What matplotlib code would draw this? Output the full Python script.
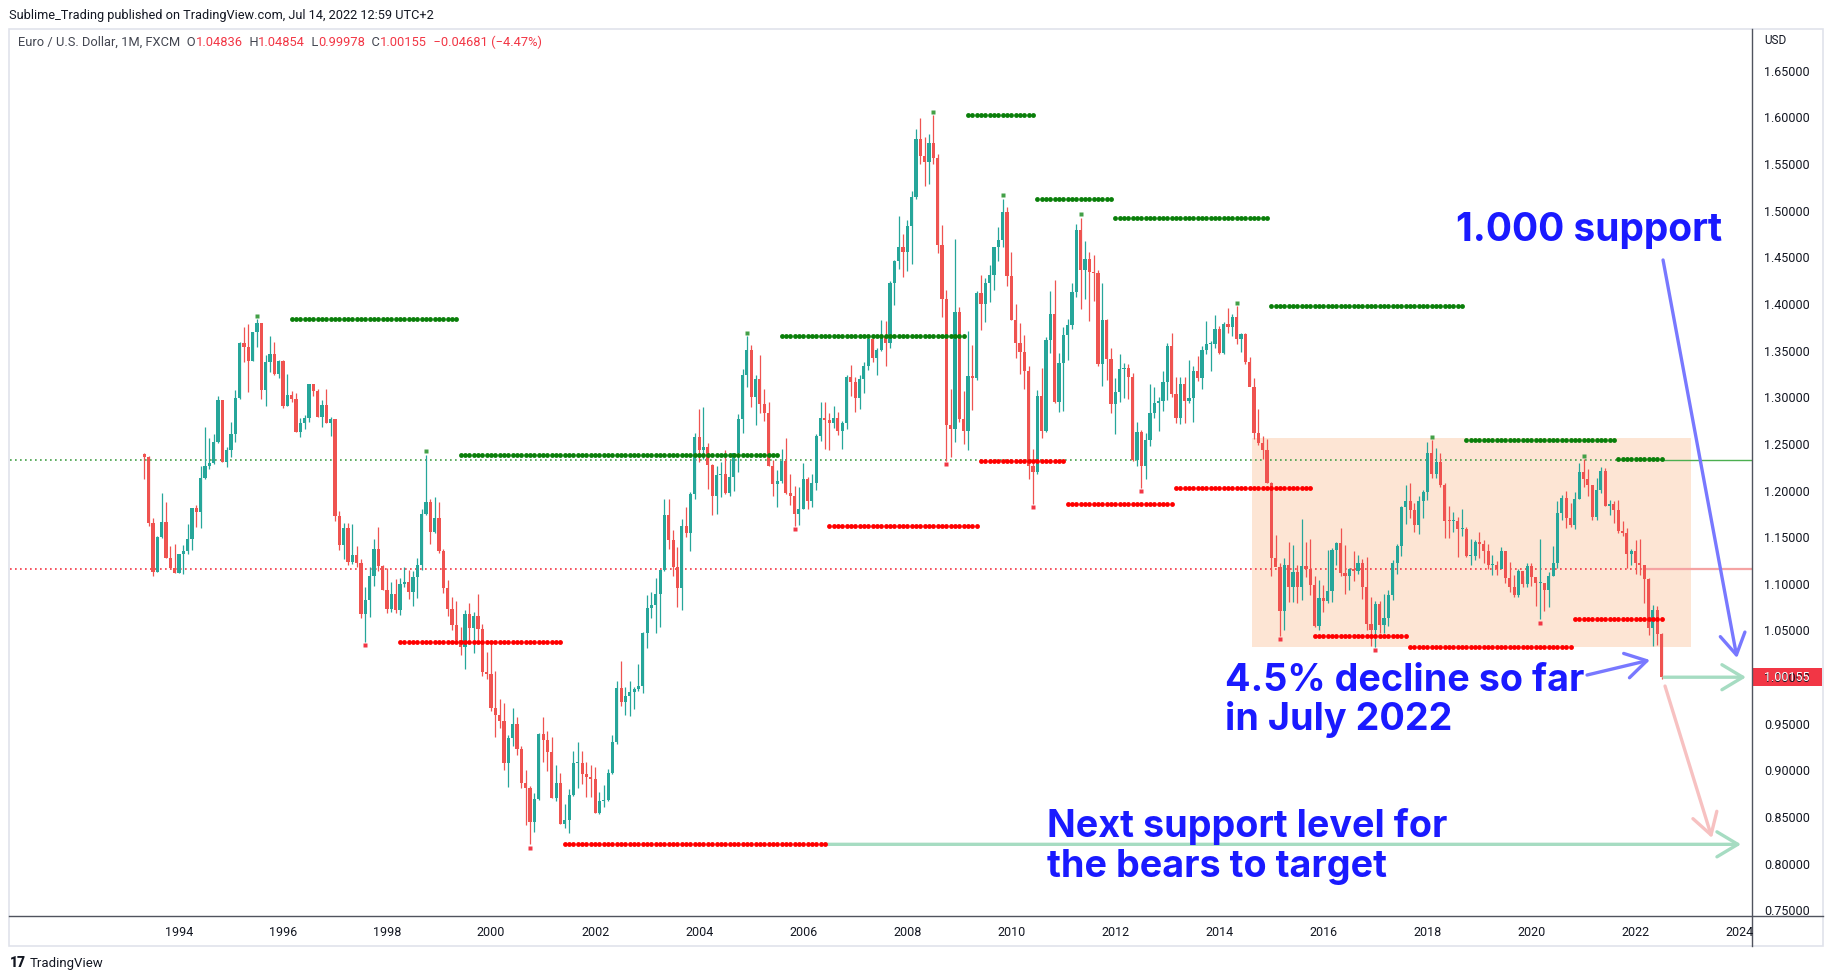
import matplotlib
matplotlib.use("Agg")
import matplotlib.pyplot as plt
import matplotlib.transforms as mtransforms
from matplotlib.patches import Rectangle
from matplotlib.lines import Line2D
import numpy as np
import pandas as pd

W, H, DPI = 1834, 980, 100

# ---------------- data (monthly EUR/USD, FXCM) ----------------
start_month = "1993-05"
first_open = 1.2407

closes = [
    1.2378, 1.1671, 1.1146, 1.1518, 1.1679, 1.1296, 1.1189, 1.1136,                  # 1993 May-Dec
    1.1336, 1.1368, 1.1496, 1.1830, 1.1790, 1.2153, 1.2278, 1.2310, 1.2536, 1.2986, 1.2325, 1.2446,  # 1994
    1.2621, 1.3011, 1.3593, 1.3550, 1.3407, 1.3714, 1.3807, 1.3093, 1.3393, 1.3479, 1.3264, 1.3407,  # 1995
    1.2921, 1.3040, 1.2996, 1.2646, 1.2739, 1.2789, 1.3157, 1.3086, 1.2807, 1.2932, 1.2743, 1.2782,  # 1996
    1.1746, 1.1432, 1.1614, 1.1253, 1.1321, 1.1243, 1.0689, 1.0843, 1.1100, 1.1389, 1.1207, 1.0950,  # 1997
    1.0746, 1.0907, 1.0736, 1.1014, 1.1036, 1.0932, 1.1090, 1.1218, 1.1764, 1.1893, 1.1575, 1.1721,  # 1998
    1.1371, 1.0975, 1.0746, 1.0578, 1.0411, 1.0340, 1.0690, 1.0546, 1.0671, 1.0532, 1.0075, 1.0054,  # 1999
    0.9690, 0.9614, 0.9550, 0.9100, 0.9360, 0.9514, 0.9246, 0.8879, 0.8825, 0.8468, 0.8711, 0.9407,  # 2000
    0.9343, 0.9218, 0.8725, 0.8879, 0.8440, 0.8486, 0.8754, 0.9093, 0.9100, 0.8979, 0.8950, 0.8921,  # 2001
    0.8564, 0.8690, 0.8700, 0.8986, 0.9318, 0.9896, 0.9754, 0.9814, 0.9861, 0.9889, 0.9925, 1.0486,  # 2002
    1.0754, 1.0789, 1.0907, 1.1164, 1.1754, 1.1486, 1.1200, 1.0970, 1.1636, 1.1557, 1.1974, 1.2585,  # 2003
    1.2450, 1.2478, 1.2287, 1.1954, 1.2180, 1.2192, 1.1993, 1.2160, 1.2418, 1.2783, 1.3259, 1.3517,  # 2004
    1.3013, 1.3212, 1.2942, 1.2847, 1.2279, 1.2081, 1.2113, 1.2327, 1.1993, 1.1962, 1.1763, 1.1823,  # 2005
    1.2140, 1.1902, 1.2101, 1.2597, 1.2795, 1.2775, 1.2744, 1.2795, 1.2656, 1.2744, 1.3228, 1.3180,  # 2006
    1.3005, 1.3212, 1.3347, 1.3641, 1.3434, 1.3517, 1.3672, 1.3597, 1.4243, 1.4474, 1.4621, 1.4573,  # 2007
    1.4847, 1.5164, 1.5783, 1.5601, 1.5533, 1.5744, 1.5582, 1.4646, 1.4068, 1.2718, 1.2675, 1.3925,  # 2008
    1.2782, 1.2657, 1.3246, 1.3218, 1.4128, 1.4014, 1.4236, 1.4325, 1.4621, 1.4700, 1.5000, 1.4314,  # 2009
    1.3843, 1.3600, 1.3496, 1.3300, 1.2282, 1.2218, 1.3029, 1.2657, 1.3629, 1.3907, 1.2961, 1.3378,  # 2010
    1.3682, 1.3789, 1.4143, 1.4807, 1.4378, 1.4496, 1.4361, 1.4350, 1.3371, 1.3843, 1.3421, 1.2943,  # 2011
    1.3068, 1.3318, 1.3332, 1.3228, 1.2343, 1.2640, 1.2282, 1.2557, 1.2843, 1.2950, 1.2975, 1.3175,  # 2012
    1.3564, 1.3046, 1.2796, 1.3157, 1.2979, 1.3010, 1.3300, 1.3220, 1.3525, 1.3584, 1.3590, 1.3745,  # 2013
    1.3485, 1.3805, 1.3770, 1.3870, 1.3635, 1.3690, 1.3390, 1.3130, 1.2630, 1.2525, 1.2450, 1.2100,  # 2014
    1.1290, 1.1195, 1.0730, 1.1220, 1.0985, 1.1145, 1.0985, 1.1210, 1.1175, 1.1005, 1.0565, 1.0860,  # 2015
    1.0830, 1.0935, 1.1380, 1.1450, 1.1130, 1.1105, 1.1175, 1.1155, 1.1240, 1.0985, 1.0590, 1.0520,  # 2016
    1.0800, 1.0575, 1.0650, 1.0895, 1.1240, 1.1425, 1.1840, 1.1905, 1.1810, 1.1645, 1.1905, 1.2005,  # 2017
    1.2415, 1.2195, 1.2325, 1.2080, 1.1690, 1.1685, 1.1690, 1.1600, 1.1605, 1.1310, 1.1315, 1.1465,  # 2018
    1.1445, 1.1370, 1.1215, 1.1215, 1.1170, 1.1370, 1.1075, 1.0985, 1.0900, 1.1150, 1.1015, 1.1210,  # 2019
    1.1090, 1.1025, 1.1030, 1.0955, 1.1100, 1.1235, 1.1780, 1.1935, 1.1720, 1.1645, 1.1925, 1.2215,  # 2020
    1.2135, 1.2075, 1.1730, 1.2020, 1.2225, 1.1855, 1.1870, 1.1805, 1.1580, 1.1560, 1.1335, 1.1370,  # 2021
    1.1235, 1.1215, 1.1065, 1.0545, 1.0735, 1.04836, 1.00155,                                        # 2022 Jan-Jul
]

highs = [
    1.2421, 1.2386, 1.1718, 1.1525, 1.1989, 1.1893, 1.1421, 1.1443,
    1.1340, 1.1430, 1.1660, 1.1830, 1.1861, 1.2278, 1.2700, 1.2580, 1.2621, 1.3028, 1.2990, 1.2486,
    1.2750, 1.3093, 1.3604, 1.3770, 1.3800, 1.3714, 1.3850, 1.3810, 1.3468, 1.3671, 1.3607, 1.3414,
    1.3410, 1.3264, 1.3082, 1.3061, 1.2789, 1.2825, 1.3160, 1.3160, 1.3104, 1.2986, 1.3104, 1.2807,
    1.2782, 1.1796, 1.1671, 1.1671, 1.1657, 1.1421, 1.1286, 1.0986, 1.1196, 1.1496, 1.1625, 1.1214,
    1.1182, 1.1036, 1.1068, 1.1075, 1.1193, 1.1164, 1.1154, 1.1293, 1.1818, 1.2400, 1.1921, 1.1946,
    1.1893, 1.1386, 1.1054, 1.0871, 1.0832, 1.0553, 1.0736, 1.0814, 1.0714, 1.0910, 1.0586, 1.0289,
    1.0404, 1.0082, 0.9782, 0.9740, 0.9396, 0.9686, 0.9589, 0.9279, 0.9021, 0.8850, 0.8771, 0.9421,
    0.9589, 0.9439, 0.9375, 0.9075, 0.8986, 0.8657, 0.8814, 0.9225, 0.9321, 0.9225, 0.9111, 0.9075,
    0.9057, 0.8789, 0.8861, 0.9029, 0.9396, 0.9971, 1.0190, 0.9914, 0.9975, 0.9914, 1.0157, 1.0496,
    1.0893, 1.0925, 1.1079, 1.1164, 1.1925, 1.1922, 1.1597, 1.1406, 1.1712, 1.1843, 1.2002, 1.2629,
    1.2886, 1.2914, 1.2530, 1.2299, 1.2280, 1.2319, 1.2446, 1.2339, 1.2418, 1.2835, 1.3319, 1.3668,
    1.3577, 1.3259, 1.3466, 1.3109, 1.2966, 1.2339, 1.2240, 1.2466, 1.2577, 1.2188, 1.2069, 1.2049,
    1.2307, 1.2160, 1.2192, 1.2625, 1.2966, 1.2966, 1.2847, 1.2926, 1.2862, 1.2763, 1.3259, 1.3359,
    1.3232, 1.3251, 1.3398, 1.3668, 1.3656, 1.3541, 1.3839, 1.3827, 1.4263, 1.4489, 1.4958, 1.4760,
    1.4918, 1.5228, 1.5890, 1.6010, 1.5803, 1.5839, 1.6038, 1.5621, 1.4861, 1.4164, 1.3104, 1.4710,
    1.3980, 1.3082, 1.3725, 1.3575, 1.4154, 1.4325, 1.4296, 1.4432, 1.4625, 1.4843, 1.5143, 1.5050,
    1.4571, 1.4014, 1.3814, 1.3682, 1.3350, 1.2461, 1.3093, 1.3332, 1.3664, 1.4154, 1.4271, 1.3485,
    1.3764, 1.3850, 1.4243, 1.4871, 1.4939, 1.4689, 1.4568, 1.4540, 1.4378, 1.4243, 1.3857, 1.3547,
    1.3225, 1.3478, 1.3385, 1.3371, 1.3271, 1.2746, 1.2664, 1.2636, 1.3157, 1.3121, 1.3021, 1.3296,
    1.3593, 1.3700, 1.3229, 1.3229, 1.3236, 1.3417, 1.3346, 1.3452, 1.3568, 1.3832, 1.3620, 1.3893,
    1.3775, 1.3825, 1.3967, 1.3907, 1.3993, 1.3700, 1.3700, 1.3443, 1.3221, 1.2887, 1.2600, 1.2570,
    1.2105, 1.1534, 1.1240, 1.1291, 1.1467, 1.1436, 1.1216, 1.1714, 1.1460, 1.1495, 1.1095, 1.1060,
    1.1000, 1.1376, 1.1395, 1.1464, 1.1616, 1.1428, 1.1187, 1.1366, 1.1327, 1.1278, 1.1300, 1.0874,
    1.0829, 1.0828, 1.0906, 1.0948, 1.1268, 1.1446, 1.1846, 1.2070, 1.2092, 1.1880, 1.1961, 1.2023,
    1.2537, 1.2556, 1.2476, 1.2414, 1.2097, 1.1852, 1.1791, 1.1734, 1.1815, 1.1625, 1.1500, 1.1486,
    1.1570, 1.1488, 1.1448, 1.1324, 1.1265, 1.1412, 1.1286, 1.1250, 1.1110, 1.1180, 1.1097, 1.1240,
    1.1239, 1.1054, 1.1495, 1.0991, 1.1147, 1.1422, 1.1908, 1.1966, 1.2011, 1.1880, 1.2003, 1.2310,
    1.2349, 1.2243, 1.1990, 1.2150, 1.2266, 1.2254, 1.1909, 1.1900, 1.1909, 1.1692, 1.1616, 1.1386,
    1.1483, 1.1495, 1.1185, 1.1076, 1.0787, 1.0774, 1.04854,
]

lows = [
    1.2139, 1.1639, 1.1103, 1.1140, 1.1505, 1.1290, 1.1180, 1.1129,
    1.1130, 1.1125, 1.1340, 1.1378, 1.1625, 1.1614, 1.2140, 1.2246, 1.2300, 1.2530, 1.2320, 1.2270,
    1.2378, 1.2540, 1.3000, 1.3390, 1.3075, 1.3400, 1.3557, 1.2996, 1.2921, 1.3286, 1.3254, 1.3225,
    1.2904, 1.2920, 1.2968, 1.2640, 1.2593, 1.2671, 1.2746, 1.3032, 1.2800, 1.2700, 1.2740, 1.2603,
    1.1693, 1.1378, 1.1282, 1.1218, 1.1228, 1.1193, 1.0653, 1.0396, 1.0664, 1.0996, 1.1157, 1.0950,
    1.0700, 1.0718, 1.0707, 1.0682, 1.0986, 1.0853, 1.0782, 1.0868, 1.1168, 1.1750, 1.1446, 1.1560,
    1.1343, 1.0921, 1.0675, 1.0521, 1.0386, 1.0253, 1.0107, 1.0414, 1.0278, 1.0414, 1.0029, 0.9993,
    0.9654, 0.9378, 0.9475, 0.9021, 0.8843, 0.9282, 0.9186, 0.8832, 0.8432, 0.8225, 0.8361, 0.8700,
    0.9111, 0.9014, 0.8725, 0.8690, 0.8440, 0.8404, 0.8350, 0.8740, 0.8825, 0.8868, 0.8736, 0.8736,
    0.8564, 0.8550, 0.8629, 0.8690, 0.8979, 0.9296, 0.9707, 0.9611, 0.9604, 0.9679, 0.9868, 0.9850,
    1.0325, 1.0654, 1.0493, 1.0557, 1.1150, 1.1386, 1.1097, 1.0771, 1.0740, 1.1513, 1.1366, 1.1922,
    1.2319, 1.2358, 1.2030, 1.1755, 1.1763, 1.1950, 1.1982, 1.1954, 1.2009, 1.2212, 1.2636, 1.3120,
    1.2906, 1.2716, 1.2847, 1.2763, 1.2279, 1.1962, 1.1843, 1.2101, 1.1982, 1.1863, 1.1640, 1.1644,
    1.1815, 1.1815, 1.1843, 1.2021, 1.2545, 1.2466, 1.2450, 1.2684, 1.2616, 1.2466, 1.2676, 1.3033,
    1.2855, 1.2894, 1.3061, 1.3303, 1.3390, 1.3251, 1.3510, 1.3351, 1.3541, 1.4005, 1.4390, 1.4303,
    1.4363, 1.4442, 1.5144, 1.5514, 1.5283, 1.5295, 1.5514, 1.4564, 1.3878, 1.2330, 1.2378, 1.2539,
    1.2753, 1.2511, 1.2450, 1.2878, 1.3200, 1.3736, 1.3825, 1.4039, 1.4164, 1.4478, 1.4621, 1.4207,
    1.3843, 1.3439, 1.3260, 1.3104, 1.2136, 1.1876, 1.2190, 1.2582, 1.2640, 1.3485, 1.2950, 1.2861,
    1.2871, 1.3414, 1.3743, 1.4093, 1.3961, 1.4068, 1.3832, 1.4050, 1.3350, 1.3136, 1.3200, 1.2850,
    1.2618, 1.2968, 1.3004, 1.2993, 1.2332, 1.2282, 1.2042, 1.2136, 1.2496, 1.2796, 1.2657, 1.2871,
    1.2986, 1.3021, 1.2743, 1.2725, 1.2739, 1.2954, 1.2755, 1.3185, 1.3105, 1.3480, 1.3295, 1.3543,
    1.3478, 1.3475, 1.3705, 1.3673, 1.3586, 1.3503, 1.3367, 1.3150, 1.2570, 1.2500, 1.2359, 1.2101,
    1.1098, 1.1262, 1.0458, 1.0520, 1.0818, 1.0819, 1.0809, 1.0848, 1.1087, 1.0896, 1.0557, 1.0522,
    1.0710, 1.0810, 1.0823, 1.1217, 1.1098, 1.0912, 1.0952, 1.1046, 1.1122, 1.0852, 1.0517, 1.0352,
    1.0339, 1.0493, 1.0494, 1.0569, 1.0839, 1.1119, 1.1312, 1.1662, 1.1717, 1.1574, 1.1554, 1.1718,
    1.1915, 1.2155, 1.2154, 1.2055, 1.1510, 1.1508, 1.1574, 1.1301, 1.1526, 1.1302, 1.1216, 1.1269,
    1.1289, 1.1234, 1.1176, 1.1111, 1.1107, 1.1181, 1.1027, 1.0926, 1.0879, 1.0879, 1.0981, 1.0981,
    1.0992, 1.0778, 1.0636, 1.0727, 1.0767, 1.1095, 1.1186, 1.1696, 1.1612, 1.1622, 1.1603, 1.1925,
    1.2053, 1.1952, 1.1704, 1.1704, 1.1986, 1.1847, 1.1752, 1.1664, 1.1563, 1.1524, 1.1186, 1.1222,
    1.1121, 1.1106, 1.0806, 1.0471, 1.0349, 1.0359, 0.99978,
]

# pivot highs / lows found by the indicator (month of the pivot bar)
pivot_high_months = ["1995-07", "1998-10", "2004-12", "2008-07", "2009-11",
                     "2011-05", "2014-05", "2018-02", "2021-01"]
pivot_low_months = ["1997-08", "2000-10", "2005-11", "2008-10", "2010-06",
                    "2012-07", "2015-03", "2017-01", "2020-03"]
pivot_right_bars = 8

# horizontal reference levels drawn by the author
green_ref_level = 1.2340
red_ref_level = 1.1172
box_x = (2014.625, 2023.058)
box_y = (1.0342, 1.2582)

price_ticks = [1.65, 1.60, 1.55, 1.50, 1.45, 1.40, 1.35, 1.30, 1.25, 1.20, 1.15,
               1.10, 1.05, 1.00, 0.95, 0.90, 0.85, 0.80, 0.75]
year_ticks = list(range(1994, 2025, 2))

# ---------------- prep ----------------
c = np.array(closes)
hi = np.array(highs)
lo = np.array(lows)
o = np.concatenate([[first_open], c[:-1]])
n = len(c)
periods = pd.period_range(start_month, periods=n, freq="M")
x = np.array([p.year + (p.month - 1) / 12 for p in periods])
ph_idx = [periods.get_loc(pd.Period(m, freq="M")) for m in pivot_high_months]
pl_idx = [periods.get_loc(pd.Period(m, freq="M")) for m in pivot_low_months]

GREEN = "#26a69a"
RED = "#ef5350"
TXT = "#131722"
BLUE = "#1a1aff"
FONT = ["Roboto", "DejaVu Sans"]
BIGFONT = ["Inter", "Roboto", "DejaVu Sans"]

fig = plt.figure(figsize=(W / DPI, H / DPI), dpi=DPI)
fig.patch.set_facecolor("white")

# plot area (pixel layout)
PL, PR, PT, PB = 10, 1752, 29, 916
ax = fig.add_axes([PL / W, 1 - PB / H, (PR - PL) / W, (PB - PT) / H])
XL = (1990.752, 2024.239)
YL = (0.7457, 1.6961)
ax.set_xlim(*XL)
ax.set_ylim(*YL)
ax.axis("off")

# rectangle zone
ax.add_patch(Rectangle((box_x[0], box_y[0]), box_x[1] - box_x[0], box_y[1] - box_y[0],
                       facecolor="#fde5d4", edgecolor="none", zorder=1))

# reference lines
ax.plot([XL[0], x[-1]], [green_ref_level] * 2, ls=(0, (1, 2)), lw=1.2, color="#43a047", zorder=2)
ax.plot([x[-1], XL[1]], [green_ref_level] * 2, lw=1.0, color="#4caf50", zorder=2)
ax.plot([XL[0], x[n - 5]], [red_ref_level] * 2, ls=(0, (1, 2)), lw=1.2, color="#f23645", zorder=2)
ax.plot([x[n - 5], XL[1]], [red_ref_level] * 2, lw=1.6, color="#f5a3a3", zorder=2)

# candles
cols = np.where(c >= o, GREEN, RED)
ax.vlines(x, lo, hi, colors=cols, lw=0.9, zorder=3)
ax.bar(x, np.maximum(np.abs(c - o), 0.0012), bottom=np.minimum(o, c), width=0.0615,
       color=cols, linewidth=0, zorder=4)

# pivot circle lines
line_ends = {}
def pivot_lines(idx_list, levels, color, key):
    ends = []
    for k, idx in enumerate(idx_list):
        s = idx + pivot_right_bars
        e = idx_list[k + 1] + pivot_right_bars if k + 1 < len(idx_list) else n
        ax.plot(x[s:e], np.full(e - s, levels[idx]), "o", ms=3.5, color=color,
                mec="none", zorder=5)
        ends.append(e)
    line_ends[key] = ends

pivot_lines(ph_idx, hi, "#0a7f0a", "high")
pivot_lines(pl_idx, lo, "#ff0000", "low")
ax.plot(x[ph_idx], hi[ph_idx] + 0.0035, "s", ms=2.4, color="#43a047", mec="none", zorder=6)
ax.plot(x[pl_idx], lo[pl_idx] - 0.0035, "s", ms=2.4, color="#f23645", mec="none", zorder=6)

# arrows
def arrow(start, end, color, lw=2.4, z=7):
    ax.annotate("", xy=end, xytext=start, annotation_clip=False,
                arrowprops=dict(arrowstyle="->,head_length=0.75,head_width=0.45",
                                mutation_scale=20, color=color, lw=lw,
                                shrinkA=0, shrinkB=0), zorder=z)

support_end = line_ends["low"][1]
arrow((x[support_end] - 0.04, lo[pl_idx[1]]), (2024.028, lo[pl_idx[1]]), "#a6dcc2", z=4.5)
arrow((2022.548, c[-1]), (2024.124, c[-1]), "#a6dcc2")
arrow((2022.567, 0.9921), (2023.470, 0.8293), "#f7c1c1")
arrow((2022.529, 1.4486), (2023.951, 1.0221), "#7878ff")
arrow((2021.068, 1.0039), (2022.278, 1.0200), "#7878ff")

# big annotation texts (figure pixel positions)
def ftext(xp, yp, s, **kw):
    return fig.text(xp / W, 1 - yp / H, s, **kw)

big = dict(fontsize=28, fontweight="bold", color=BLUE, family=BIGFONT, va="baseline")
ftext(1456, 241, "1.000 support", **big)
ftext(1225, 691, "4.5% decline so far", fontsize=27.2, **{k: v for k, v in big.items() if k != "fontsize"})
ftext(1225, 730, "in July 2022", fontsize=27.2, **{k: v for k, v in big.items() if k != "fontsize"})
ftext(1047, 837, "Next support level for", fontsize=27.2, **{k: v for k, v in big.items() if k != "fontsize"})
ftext(1047, 877, "the bears to target", fontsize=27.2, **{k: v for k, v in big.items() if k != "fontsize"})

# frame & axes lines
fig.add_artist(Rectangle((9 / W, 1 - 946 / H), 1814 / W, 917 / H, transform=fig.transFigure,
                         facecolor="none", edgecolor="#e0e3eb", lw=1.2))
fig.add_artist(Line2D([PR / W, PR / W], [1 - 946 / H, 1 - PT / H], transform=fig.transFigure,
                      color="#50535e", lw=1.0))
fig.add_artist(Line2D([9 / W, 1823 / W], [1 - PB / H, 1 - PB / H], transform=fig.transFigure,
                      color="#50535e", lw=1.0))

# price axis labels
ty = mtransforms.blended_transform_factory(fig.transFigure, ax.transData)
for p in price_ticks:
    fig.text(1764 / W, p, f"{p:.5f}", transform=ty, va="center", ha="left",
             fontsize=9, color=TXT, family=FONT)
ftext(1764, 40, "USD", va="center", ha="left", fontsize=8.5, color=TXT, family=FONT)

# last price tag
fig.add_artist(Rectangle((PR / W, c[-1] - 0.0098), 70 / W, 0.0196, transform=ty,
                         facecolor="#f23645", edgecolor="none"))
fig.text(1764 / W, c[-1], f"{c[-1]:.5f}", transform=ty, va="center", ha="left",
         fontsize=9, color="white", family=FONT)

# year labels
tx = mtransforms.blended_transform_factory(ax.transData, fig.transFigure)
for yv in year_ticks:
    fig.text(yv, 1 - 932 / H, str(yv), transform=tx, ha="center", va="center",
             fontsize=9, color=TXT, family=FONT)

# header
ftext(9, 15, "Sublime_Trading published on TradingView.com, Jul 14, 2022 12:59 UTC+2",
      va="center", ha="left", fontsize=9.15, color=TXT, family=FONT)

# legend line with coloured values
renderer = fig.canvas.get_renderer()
parts = [("Euro / U.S. Dollar, 1M, FXCM  O", "#434651"), ("1.04836", "#f23645"),
         ("  H", "#434651"), ("1.04854", "#f23645"), ("  L", "#434651"),
         ("0.99978", "#f23645"), ("  C", "#434651"), ("1.00155", "#f23645"),
         ("  \u22120.04681 (\u22124.47%)", "#f23645")]
xp = 18
for s, col in parts:
    t = ftext(xp, 42, s, va="center", ha="left", fontsize=9.3, color=col, family=FONT)
    xp += t.get_window_extent(renderer=renderer).width

# footer logo
ftext(10, 963, "17", va="center", ha="left", fontsize=10, fontweight="heavy",
      color=TXT, family=FONT)
ftext(30, 963, "TradingView", va="center", ha="left", fontsize=9.5, color=TXT, family=FONT)

fig.savefig("out.png", dpi=DPI, facecolor="white")
